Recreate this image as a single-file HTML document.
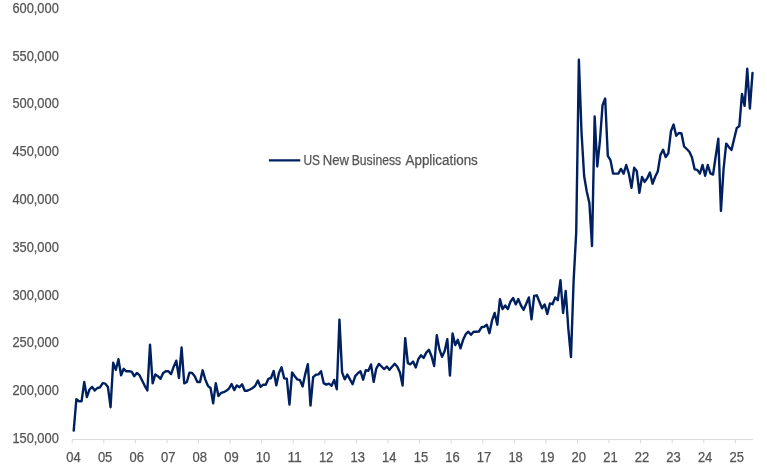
<!DOCTYPE html><html><head><meta charset="utf-8"><title>US New Business Applications</title>
<style>html,body{margin:0;padding:0;background:#fff;}svg{display:block;}text{font-family:"Liberation Sans",sans-serif;font-size:13.8px;fill:#555555;stroke:#555555;stroke-width:0.25px;}</style></head><body>
<svg width="767" height="469" viewBox="0 0 767 469">
<rect width="767" height="469" fill="#ffffff"/>
<path d="M72.2 439.6 H752.9" stroke="#d9d9d9" stroke-width="1" fill="none"/>
<path d="M72.20 439.6 v3.8 M103.78 439.6 v3.8 M135.36 439.6 v3.8 M166.94 439.6 v3.8 M198.52 439.6 v3.8 M230.10 439.6 v3.8 M261.68 439.6 v3.8 M293.26 439.6 v3.8 M324.84 439.6 v3.8 M356.42 439.6 v3.8 M388.00 439.6 v3.8 M419.58 439.6 v3.8 M451.16 439.6 v3.8 M482.74 439.6 v3.8 M514.32 439.6 v3.8 M545.90 439.6 v3.8 M577.48 439.6 v3.8 M609.06 439.6 v3.8 M640.64 439.6 v3.8 M672.22 439.6 v3.8 M703.80 439.6 v3.8 M735.38 439.6 v3.8 " stroke="#d9d9d9" stroke-width="1" fill="none"/>
<text x="58.8" y="12.8" text-anchor="end" textLength="46.4" lengthAdjust="spacingAndGlyphs">600,000</text>
<text x="58.8" y="60.6" text-anchor="end" textLength="46.4" lengthAdjust="spacingAndGlyphs">550,000</text>
<text x="58.8" y="108.4" text-anchor="end" textLength="46.4" lengthAdjust="spacingAndGlyphs">500,000</text>
<text x="58.8" y="156.1" text-anchor="end" textLength="46.4" lengthAdjust="spacingAndGlyphs">450,000</text>
<text x="58.8" y="203.9" text-anchor="end" textLength="46.4" lengthAdjust="spacingAndGlyphs">400,000</text>
<text x="58.8" y="251.7" text-anchor="end" textLength="46.4" lengthAdjust="spacingAndGlyphs">350,000</text>
<text x="58.8" y="299.5" text-anchor="end" textLength="46.4" lengthAdjust="spacingAndGlyphs">300,000</text>
<text x="58.8" y="347.3" text-anchor="end" textLength="46.4" lengthAdjust="spacingAndGlyphs">250,000</text>
<text x="58.8" y="395.0" text-anchor="end" textLength="46.4" lengthAdjust="spacingAndGlyphs">200,000</text>
<text x="58.8" y="442.8" text-anchor="end" textLength="46.4" lengthAdjust="spacingAndGlyphs">150,000</text>
<text x="73.5" y="461.9" text-anchor="middle" textLength="14.45" lengthAdjust="spacingAndGlyphs">04</text>
<text x="105.1" y="461.9" text-anchor="middle" textLength="14.45" lengthAdjust="spacingAndGlyphs">05</text>
<text x="136.7" y="461.9" text-anchor="middle" textLength="14.45" lengthAdjust="spacingAndGlyphs">06</text>
<text x="168.2" y="461.9" text-anchor="middle" textLength="14.45" lengthAdjust="spacingAndGlyphs">07</text>
<text x="199.8" y="461.9" text-anchor="middle" textLength="14.45" lengthAdjust="spacingAndGlyphs">08</text>
<text x="231.4" y="461.9" text-anchor="middle" textLength="14.45" lengthAdjust="spacingAndGlyphs">09</text>
<text x="263.0" y="461.9" text-anchor="middle" textLength="14.45" lengthAdjust="spacingAndGlyphs">10</text>
<text x="294.6" y="461.9" text-anchor="middle" textLength="14.45" lengthAdjust="spacingAndGlyphs">11</text>
<text x="326.1" y="461.9" text-anchor="middle" textLength="14.45" lengthAdjust="spacingAndGlyphs">12</text>
<text x="357.7" y="461.9" text-anchor="middle" textLength="14.45" lengthAdjust="spacingAndGlyphs">13</text>
<text x="389.3" y="461.9" text-anchor="middle" textLength="14.45" lengthAdjust="spacingAndGlyphs">14</text>
<text x="420.9" y="461.9" text-anchor="middle" textLength="14.45" lengthAdjust="spacingAndGlyphs">15</text>
<text x="452.5" y="461.9" text-anchor="middle" textLength="14.45" lengthAdjust="spacingAndGlyphs">16</text>
<text x="484.0" y="461.9" text-anchor="middle" textLength="14.45" lengthAdjust="spacingAndGlyphs">17</text>
<text x="515.6" y="461.9" text-anchor="middle" textLength="14.45" lengthAdjust="spacingAndGlyphs">18</text>
<text x="547.2" y="461.9" text-anchor="middle" textLength="14.45" lengthAdjust="spacingAndGlyphs">19</text>
<text x="578.8" y="461.9" text-anchor="middle" textLength="14.45" lengthAdjust="spacingAndGlyphs">20</text>
<text x="610.4" y="461.9" text-anchor="middle" textLength="14.45" lengthAdjust="spacingAndGlyphs">21</text>
<text x="641.9" y="461.9" text-anchor="middle" textLength="14.45" lengthAdjust="spacingAndGlyphs">22</text>
<text x="673.5" y="461.9" text-anchor="middle" textLength="14.45" lengthAdjust="spacingAndGlyphs">23</text>
<text x="705.1" y="461.9" text-anchor="middle" textLength="14.45" lengthAdjust="spacingAndGlyphs">24</text>
<text x="736.7" y="461.9" text-anchor="middle" textLength="14.45" lengthAdjust="spacingAndGlyphs">25</text>
<path d="M73.72 430.60 L76.35 399.30 L78.98 401.20 L81.61 401.20 L84.24 382.00 L86.87 397.10 L89.50 389.50 L92.13 386.90 L94.76 390.50 L97.39 388.00 L100.03 387.30 L102.66 383.10 L105.29 383.70 L107.92 386.90 L110.55 407.20 L113.18 362.80 L115.81 369.90 L118.44 359.20 L121.07 375.20 L123.70 368.80 L126.34 371.30 L128.97 371.30 L131.60 371.60 L134.23 376.20 L136.86 373.00 L139.49 375.20 L142.12 380.50 L144.75 385.80 L147.38 390.50 L150.01 344.70 L152.65 383.30 L155.28 374.50 L157.91 376.20 L160.54 378.80 L163.17 373.00 L165.80 371.30 L168.43 371.30 L171.06 374.10 L173.69 366.70 L176.32 360.70 L178.96 378.00 L181.59 347.50 L184.22 383.30 L186.85 382.00 L189.48 372.60 L192.11 373.00 L194.74 376.20 L197.37 382.00 L200.00 382.00 L202.63 370.30 L205.27 379.40 L207.90 385.80 L210.53 388.00 L213.16 403.30 L215.79 383.30 L218.42 396.10 L221.05 392.90 L223.68 392.20 L226.31 390.70 L228.94 388.60 L231.58 384.10 L234.21 390.10 L236.84 385.40 L239.47 387.30 L242.10 384.30 L244.73 390.70 L247.36 390.70 L249.99 389.50 L252.62 388.00 L255.25 385.80 L257.89 380.50 L260.52 386.90 L263.15 384.80 L265.78 384.80 L268.41 378.80 L271.04 378.00 L273.67 370.90 L276.30 385.40 L278.93 373.00 L281.56 367.30 L284.20 378.40 L286.83 378.80 L289.46 404.60 L292.09 372.40 L294.72 376.20 L297.35 379.40 L299.98 380.10 L302.61 386.50 L305.24 374.10 L307.87 364.10 L310.51 405.60 L313.14 377.20 L315.77 374.80 L318.40 374.40 L321.03 371.20 L323.66 383.10 L326.29 384.60 L328.92 383.60 L331.55 385.70 L334.18 379.90 L336.82 389.30 L339.45 319.60 L342.08 372.30 L344.71 379.30 L347.34 374.60 L349.97 379.30 L352.60 384.20 L355.23 376.10 L357.86 373.30 L360.49 371.20 L363.13 379.70 L365.76 370.10 L368.39 370.80 L371.02 364.40 L373.65 381.90 L376.28 368.60 L378.91 363.90 L381.54 366.50 L384.17 369.10 L386.80 366.50 L389.44 369.80 L392.07 366.80 L394.70 363.80 L397.33 366.80 L399.96 372.50 L402.59 385.60 L405.22 338.10 L407.85 363.20 L410.48 364.30 L413.11 361.50 L415.75 367.50 L418.38 359.00 L421.01 355.30 L423.64 357.90 L426.27 352.60 L428.90 349.80 L431.53 356.20 L434.16 366.00 L436.79 335.10 L439.42 349.40 L442.06 356.80 L444.69 350.90 L447.32 339.10 L449.95 375.60 L452.58 333.40 L455.21 345.10 L457.84 339.80 L460.47 348.30 L463.10 339.80 L465.73 334.20 L468.37 331.70 L471.00 334.80 L473.63 331.70 L476.26 331.70 L478.89 331.50 L481.52 327.30 L484.15 326.80 L486.78 324.70 L489.41 333.20 L492.04 320.40 L494.68 313.00 L497.31 324.70 L499.94 299.10 L502.57 309.10 L505.20 305.50 L507.83 309.10 L510.46 301.70 L513.09 298.00 L515.72 304.40 L518.35 299.10 L520.99 305.50 L523.62 309.80 L526.25 303.80 L528.88 297.40 L531.51 319.40 L534.14 295.90 L536.77 295.30 L539.40 301.70 L542.03 308.30 L544.66 304.40 L547.30 314.00 L549.93 303.40 L552.56 304.20 L555.19 297.40 L557.82 300.20 L560.45 280.20 L563.08 313.00 L565.71 291.00 L568.34 329.00 L570.97 357.10 L573.61 281.00 L576.24 231.80 L578.87 59.80 L581.50 132.00 L584.13 176.00 L586.76 191.50 L589.39 203.00 L592.02 246.10 L594.65 116.50 L597.28 166.50 L599.92 141.00 L602.55 105.20 L605.18 98.50 L607.81 155.90 L610.44 160.10 L613.07 173.60 L615.70 173.60 L618.33 173.60 L620.96 168.90 L623.59 173.60 L626.23 165.00 L628.86 173.60 L631.49 187.80 L634.12 167.80 L636.75 171.00 L639.38 192.80 L642.01 177.00 L644.64 181.90 L647.27 178.30 L649.90 172.50 L652.54 183.70 L655.17 176.80 L657.80 171.40 L660.43 155.00 L663.06 149.70 L665.69 157.10 L668.32 153.30 L670.95 131.30 L673.58 124.50 L676.21 135.80 L678.85 133.00 L681.48 133.50 L684.11 146.50 L686.74 149.00 L689.37 151.80 L692.00 157.60 L694.63 169.30 L697.26 169.90 L699.89 173.60 L702.52 165.00 L705.16 175.80 L707.79 165.00 L710.42 173.40 L713.05 174.60 L715.68 156.50 L718.31 138.80 L720.94 211.00 L723.57 169.00 L726.20 143.60 L728.83 147.00 L731.47 150.00 L734.10 139.00 L736.73 128.10 L739.36 126.00 L741.99 93.90 L744.62 105.90 L747.25 68.80 L749.88 108.60 L752.51 73.00" stroke="#002060" stroke-width="2.4" fill="none" stroke-linejoin="round" stroke-linecap="round"/>
<path d="M268.9 160.4 H300.3" stroke="#002060" stroke-width="2.4" fill="none"/>
<text y="164.65"><tspan x="303.4" textLength="16.6" lengthAdjust="spacingAndGlyphs">US</tspan> <tspan x="322.7" textLength="26.2" lengthAdjust="spacingAndGlyphs">New</tspan> <tspan x="351.7" textLength="49.5" lengthAdjust="spacingAndGlyphs">Business</tspan> <tspan x="405.5" textLength="72.3" lengthAdjust="spacingAndGlyphs">Applications</tspan></text>
</svg></body></html>
